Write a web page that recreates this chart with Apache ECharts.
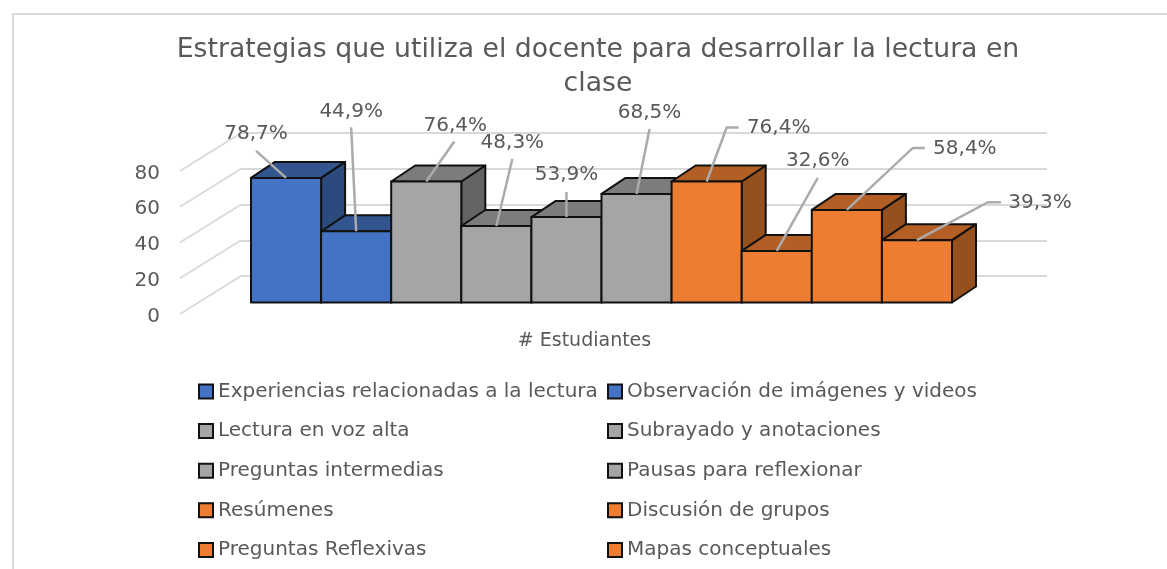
<!DOCTYPE html>
<html><head><meta charset="utf-8">
<style>html,body{margin:0;padding:0;background:#fff}#c{width:1167px;height:569px}</style>
<script src="https://cdn.jsdelivr.net/npm/echarts@6/dist/echarts.min.js"></script>
</head><body><div id="c"></div>
<script>
const categories = ['# Estudiantes'];
const seriesNames = ['Experiencias relacionadas a la lectura','Observación de imágenes y videos','Lectura en voz alta','Subrayado y anotaciones','Preguntas intermedias','Pausas para reflexionar','Resúmenes','Discusión de grupos','Preguntas Reflexivas','Mapas conceptuales'];
const counts = [70,40,68,43,48,61,68,29,52,35];
const percentLabels = ['78,7%','44,9%','76,4%','48,3%','53,9%','68,5%','76,4%','32,6%','58,4%','39,3%'];
const yTicks = [0,20,40,60,80];

// styling only
const palette = {
  blue:{front:'#4472C4',top:'#32558F',side:'#2B4A7E'},
  gray:{front:'#A5A5A5',top:'#7C7C7C',side:'#646464'},
  orange:{front:'#ED7D31',top:'#B25E24',side:'#96501E'}
};
const barTheme = ['blue','blue','gray','gray','gray','gray','orange','orange','orange','orange'];
// leader geometry in px relative to the top-centre of each bar: bend points then label centre
const leaders = [
 {pts:[[-30,-27]],label:[-30,-44]},
 {pts:[[-5,-104]],label:[-5,-120]},
 {pts:[[28,-40]],label:[29,-56]},
 {pts:[[16,-67]],label:[16,-83]},
 {pts:[[0,-25]],label:[0,-42]},
 {pts:[[13,-65]],label:[13,-81]},
 {pts:[[20,-54],[32,-54]],label:[72,-54]},
 {pts:[[41,-73]],label:[41,-90]},
 {pts:[[66,-62],[78,-62]],label:[118,-61]},
 {pts:[[71,-38],[84,-38]],label:[123,-37]}
];
const depth = {dx:24,dy:16};
const floor = {dx:61,dy:38,lift:2.5};
const textColor = '#595959';
const font = 'DejaVu Sans';

function barRender(i){
  return function(params,api){
    const bandW = api.size([1,0])[0];
    const w = bandW/counts.length;
    const top = api.coord([api.value(0),api.value(1)]);
    const base = api.coord([api.value(0),0]);
    const x0 = top[0]+(i-counts.length/2)*w, x1 = x0+w, yT = top[1], yB = base[1];
    const c = palette[barTheme[i]];
    const stroke = {stroke:'#111',lineWidth:2,lineJoin:'round'};
    return {type:'group',children:[
      {type:'polygon',shape:{points:[[x1,yT],[x1+depth.dx,yT-depth.dy],[x1+depth.dx,yB-depth.dy],[x1,yB]]},style:{fill:c.side,...stroke}},
      {type:'polygon',shape:{points:[[x0,yT],[x0+depth.dx,yT-depth.dy],[x1+depth.dx,yT-depth.dy],[x1,yT]]},style:{fill:c.top,...stroke}},
      {type:'rect',shape:{x:x0,y:yT,width:w,height:yB-yT},style:{fill:c.front,...stroke}}
    ]};
  };
}
function labelRender(params,api){
  const i = params.dataIndex;
  const bandW = api.size([1,0])[0];
  const w = bandW/counts.length;
  const top = api.coord([0,api.value(1)]);
  const ax = top[0]+(i+0.5-counts.length/2)*w, ay = top[1];
  const L = leaders[i];
  const pts = [[ax,ay]].concat(L.pts.map(p=>[ax+p[0],ay+p[1]]));
  return {type:'group',children:[
    {type:'polyline',shape:{points:pts},style:{fill:'none',stroke:'#ABABAB',lineWidth:2.5}},
    {type:'text',x:ax+L.label[0],y:ay+L.label[1],style:{text:percentLabels[i],fill:textColor,font:'20px "'+font+'"',align:'center',verticalAlign:'middle'}}
  ]};
}
function wallRender(params,api){
  const p = api.coord([0,api.value(0)]);
  const x = p[0]-api.size([1,0])[0]/2;
  const y = p[1]-floor.lift;
  return {type:'line',shape:{x1:x,y1:y,x2:x+floor.dx,y2:y-floor.dy},style:{stroke:'#D9D9D9',lineWidth:1.8}};
}
const legendRow = (idx)=>idx.map(k=>{
  const c = palette[barTheme[k]];
  return {name:seriesNames[k],itemStyle:{color:c.front,borderColor:'#111',borderWidth:2}};
});
const legendBase = {orient:'vertical',icon:'rect',itemWidth:14,itemHeight:14,itemGap:19.6,top:381.5,padding:0,
  textStyle:{color:textColor,fontFamily:font,fontSize:20},selectedMode:false};

const series = [
  {type:'custom',name:'pared',xAxisIndex:0,yAxisIndex:0,silent:true,z:1,data:yTicks.map(v=>[v]),encode:{y:0},renderItem:wallRender,clip:false}
].concat(seriesNames.map((n,i)=>({
  type:'custom',name:n,xAxisIndex:2,yAxisIndex:2,z:3,clip:false,
  itemStyle:{color:palette[barTheme[i]].front},
  data:[[0,counts[i]]],encode:{x:0,y:1},renderItem:barRender(i)
}))).concat([{
  type:'custom',name:'etiquetas',xAxisIndex:2,yAxisIndex:2,z:5,silent:true,clip:false,
  data:counts.map(v=>[0,v]),encode:{x:0,y:1},renderItem:labelRender
}]);

const chart = echarts.init(document.getElementById('c'),null,{renderer:'canvas'});
chart.setOption({
  animation:false,
  backgroundColor:'#fff',
  title:{text:'Estrategias que utiliza el docente para desarrollar la lectura en\nclase',left:593,top:28,textAlign:'center',
    textStyle:{color:textColor,fontFamily:font,fontSize:26.7,fontWeight:'normal',lineHeight:34}},
  legend:[
    {...legendBase,left:198,data:legendRow([0,2,4,6,8])},
    {...legendBase,left:607,data:legendRow([1,3,5,7,9])}
  ],
  grid:[
    {left:180,width:200,top:173.5,height:143},
    {left:241,width:806,top:133,height:143},
    {left:251,width:701,top:160.1,height:142.4}
  ],
  xAxis:[
    {type:'category',gridIndex:0,data:categories,show:false},
    {type:'category',gridIndex:1,data:categories,show:false},
    {type:'category',gridIndex:2,data:categories,axisLine:{show:false},axisTick:{show:false},
     axisLabel:{color:textColor,fontFamily:font,fontSize:19,margin:29,padding:[0,34,0,0]}}
  ],
  yAxis:[
    {type:'value',gridIndex:0,min:0,max:80,interval:20,axisLine:{show:false},axisTick:{show:false},splitLine:{show:false},
     axisLabel:{color:textColor,fontFamily:font,fontSize:20,margin:20}},
    {type:'value',gridIndex:1,min:0,max:80,interval:20,axisLine:{show:false},axisTick:{show:false},axisLabel:{show:false},
     splitLine:{lineStyle:{color:'#D9D9D9',width:1.8}}},
    {type:'value',gridIndex:2,min:0,max:80,interval:20,show:false,splitLine:{show:false}}
  ],
  graphic:[
    {type:'polyline',silent:true,z:0,shape:{points:[[13,569],[13,14],[1167,14]]},style:{fill:'none',stroke:'#D9D9D9',lineWidth:2}}
  ],
  series
});
</script></body></html>
